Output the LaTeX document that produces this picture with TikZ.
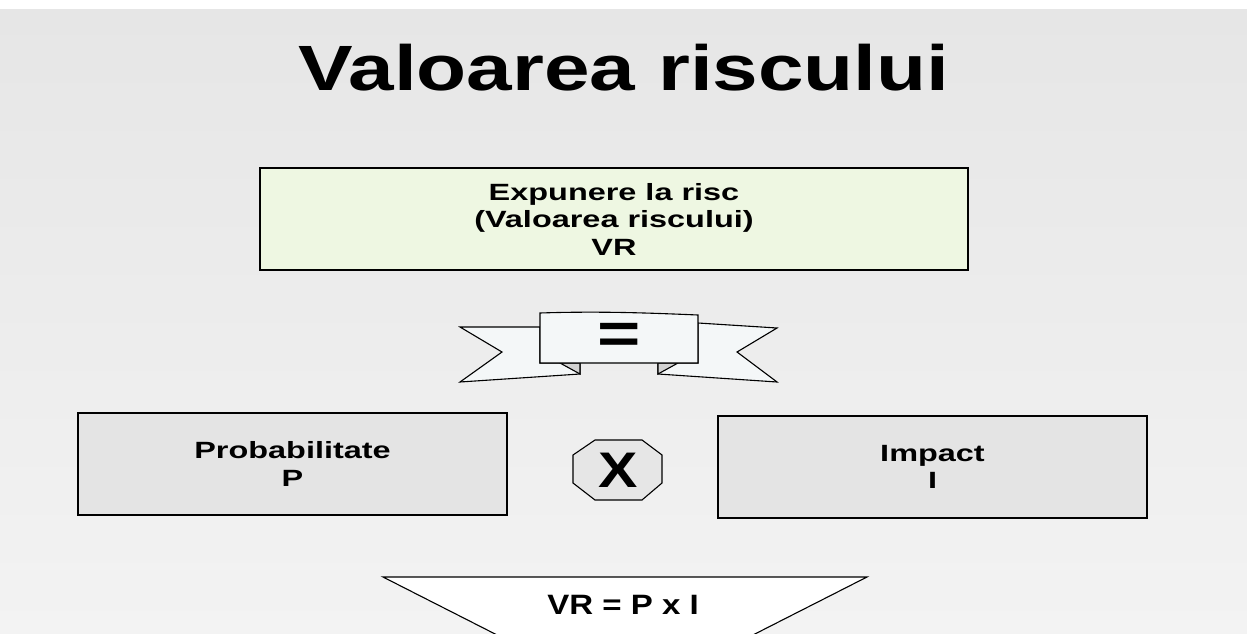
\documentclass[tikz,border=0pt]{standalone}
\usepackage{fontspec}
\setmainfont{Liberation Sans}
\newfontfamily\titlefont[FakeStretch=1.28]{Liberation Sans}
\newfontfamily\bodyfont[FakeStretch=1.38]{Liberation Sans}
\newfontfamily\formfont[FakeStretch=1.18]{Liberation Sans}
\definecolor{bgtop}{HTML}{E6E6E6}
\definecolor{bgbot}{HTML}{F3F3F3}
\definecolor{greenfill}{HTML}{EEF7E2}
\definecolor{greyfill}{HTML}{E4E4E4}
\definecolor{ribfill}{HTML}{F4F7F8}
\definecolor{foldfill}{HTML}{D2D2D2}
\definecolor{octfill}{HTML}{E6E6E6}
\begin{document}
\begin{tikzpicture}[x=1pt,y=-1pt,
  box/.style={draw=black,line width=1.1pt,minimum width=#1,align=center,font=\bodyfont\bfseries\fontsize{23.5}{27.5}\selectfont,inner sep=0pt},
  outl/.style={draw=black,line width=1.1pt,line join=miter}]
\useasboundingbox (0,0) rectangle (1247,634);
\fill[white] (0,0) rectangle (1247,634);
\shade[top color=bgtop,bottom color=bgbot] (0,10) rectangle (1247,634);
% title
\node[font=\titlefont\bfseries\fontsize{64}{70}\selectfont] (title) at (624,68) {Valoarea riscului};
% top box
\node[box=708pt,minimum height=102pt,fill=greenfill] (vr) at (614,219) {Expunere la risc\\(Valoarea riscului)\\VR};
% ribbon
\path[outl,fill=ribfill] (540,327) -- (460,327) -- (502,352) -- (460,382) -- (580,374) -- (580,363) -- (540,363) -- cycle;
\path[outl,fill=ribfill] (698,323) -- (777,328) -- (737,352) -- (777,382) -- (658,374) -- (658,363) -- (698,363) -- cycle;
\path[outl,fill=foldfill] (560,363) -- (580,363) -- (580,374) -- cycle;
\path[outl,fill=foldfill] (678,363) -- (658,363) -- (658,374) -- cycle;
\draw[outl,fill=ribfill] (540,313) .. controls (600,311) and (650,313) .. (698,315) -- (698,363) -- (540,363) -- cycle;
\node[font=\titlefont\bfseries\fontsize{58}{60}\selectfont] (eq) at (619,338) {=};
% side boxes
\node[box=429pt,minimum height=102pt,fill=greyfill] (p) at (292.5,464) {Probabilitate\\P};
\node[box=429pt,minimum height=102pt,fill=greyfill] (i) at (932.5,467) {Impact\\I};
% octagon
\draw[outl,fill=octfill] (595,440) -- (642,440) -- (662,455) -- (662,483) -- (642,500) -- (595,500) -- (573,483) -- (573,455) -- cycle;
\node[font=\formfont\bfseries\fontsize{50}{52}\selectfont] (x) at (618,470) {X};
% inverted triangle
\begin{scope}
\clip (0,0) rectangle (1247,634);
\draw[outl,fill=white] (383,577) -- (867,577) -- (625,700) -- cycle;
\end{scope}
\node[font=\formfont\bfseries\fontsize{28}{30}\selectfont] (f) at (623,605) {VR = P x I};
\end{tikzpicture}
\end{document}
